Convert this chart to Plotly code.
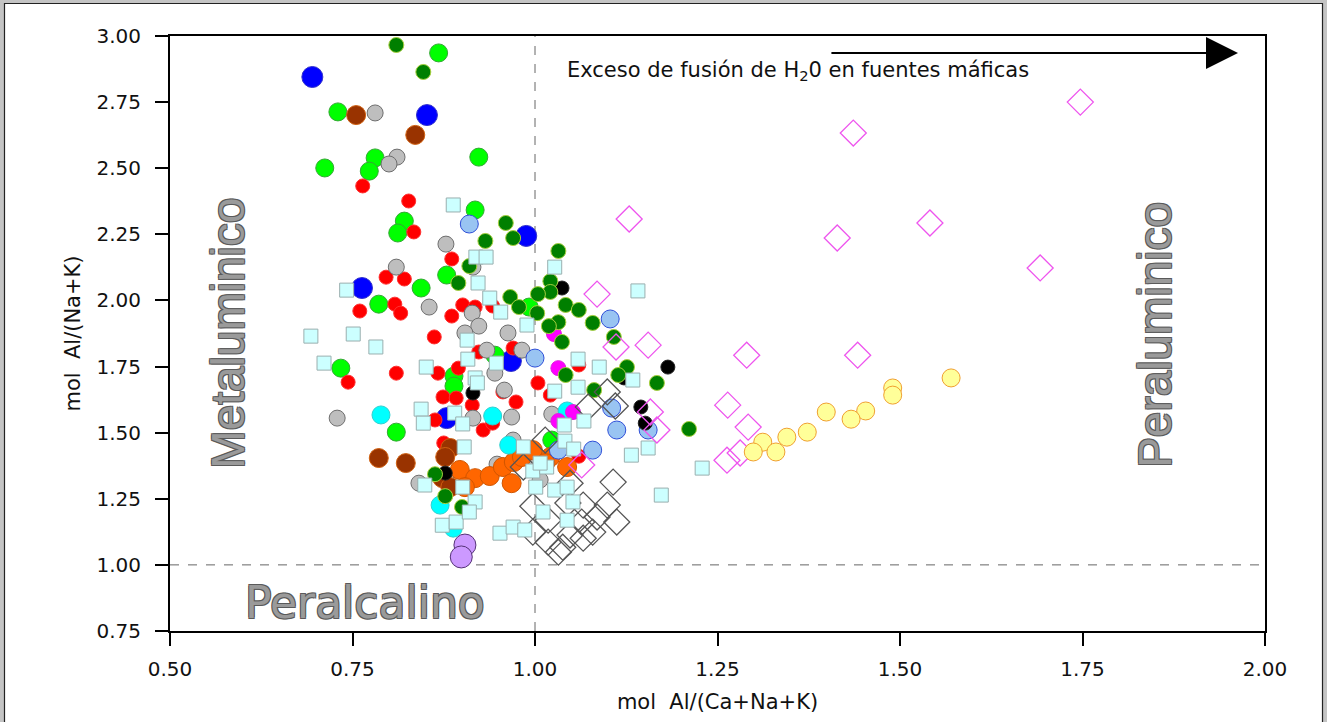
import plotly.graph_objects as go

# ---------------- data ----------------
blue_x = [0.695, 0.852, 0.763, 0.988, 0.967, 0.879]
blue_y = [2.845, 2.701, 2.047, 2.244, 1.771, 1.555]

lime_x = [0.712, 0.730, 0.781, 0.773, 0.868, 0.923, 0.918, 0.821, 0.812, 0.879, 0.844, 0.786,
          0.734, 0.889, 0.889, 0.810, 0.992, 1.023, 0.945]
lime_y = [2.501, 2.713, 2.539, 2.489, 2.936, 2.542, 2.342, 2.300, 2.255, 2.096, 2.047, 1.986,
          1.744, 1.714, 1.676, 1.502, 1.975, 1.472, 1.793]

red_x = [0.764, 0.827, 0.834, 0.886, 0.796, 0.821, 0.760, 0.808, 0.816, 0.901, 0.886, 0.918,
         0.942, 0.862, 0.923, 0.970, 0.810, 0.744, 0.867, 0.874, 0.892, 0.914, 0.956, 0.974,
         1.004, 1.021, 0.863, 0.929, 0.942, 0.875, 1.060, 1.060, 0.895]
red_y = [2.433, 2.376, 2.259, 2.157, 2.088, 2.081, 1.960, 1.986, 1.952, 1.983, 1.941, 1.975,
         1.979, 1.862, 1.805, 1.820, 1.725, 1.691, 1.725, 1.635, 1.631, 1.604, 1.654, 1.616,
         1.688, 1.642, 1.548, 1.510, 1.536, 1.461, 1.756, 1.411, 1.744]

gray_x = [0.781, 0.811, 0.800, 0.878, 0.810, 0.915, 0.855, 0.914, 0.923, 0.904, 0.963, 0.934,
          0.982, 0.945, 0.958, 0.729, 0.915, 0.968, 1.023, 0.948, 0.970, 0.841, 0.997, 1.007, 0.878]
gray_y = [2.709, 2.542, 2.516, 2.213, 2.126, 2.126, 1.975, 1.952, 1.903, 1.877, 1.877, 1.812,
          1.812, 1.725, 1.661, 1.555, 1.555, 1.559, 1.570, 1.381, 1.472, 1.309, 1.408, 1.321, 1.336]

brown_x = [0.755, 0.836, 0.786, 0.823, 0.884, 0.877, 0.873, 0.884]
brown_y = [2.701, 2.626, 1.404, 1.385, 1.442, 1.408, 1.328, 1.294]

orange_x = [0.897, 0.918, 0.938, 0.956, 0.968, 0.971, 0.982, 0.997, 1.021, 1.044, 1.014, 0.904]
orange_y = [1.359, 1.328, 1.336, 1.370, 1.309, 1.389, 1.408, 1.434, 1.408, 1.370, 1.385, 1.294]

purple_x = [0.904, 0.899]
purple_y = [1.075, 1.030]

cyan_x = [0.789, 0.942, 0.964, 0.870, 0.888, 1.044]
cyan_y = [1.567, 1.563, 1.453, 1.226, 1.139, 1.582]

magenta_x = [1.026, 1.032, 1.052, 1.032]
magenta_y = [1.873, 1.744, 1.578, 1.544]

lightblue_x = [0.910, 1.103, 1.000, 1.105, 1.112, 1.155, 1.079, 1.032]
lightblue_y = [2.289, 1.930, 1.782, 1.593, 1.510, 1.510, 1.434, 1.434]

black_x = [1.037, 1.182, 0.915, 0.877, 1.145, 1.151, 1.122]
black_y = [2.047, 1.748, 1.650, 1.347, 1.597, 1.536, 1.707]

dkgreen_x = [0.810, 0.847, 0.960, 0.970, 0.932, 0.910, 0.895, 1.032, 1.021, 1.021, 1.004, 0.966,
             0.978, 1.003, 1.042, 1.060, 1.079, 1.032, 1.019, 1.037, 1.108, 1.042, 1.081, 1.126,
             1.114, 1.167, 1.211, 0.863, 0.877, 0.900]
dkgreen_y = [2.966, 2.864, 2.293, 2.236, 2.225, 2.130, 2.066, 2.187, 2.073, 2.032, 2.024, 2.013,
             1.975, 1.952, 1.983, 1.964, 1.915, 1.918, 1.903, 1.843, 1.862, 1.718, 1.661, 1.748,
             1.718, 1.688, 1.514, 1.343, 1.260, 1.219]

whitediam_x = [1.099, 1.110, 1.073, 1.014, 0.984, 1.048, 1.107, 0.997, 1.045, 1.066, 1.099, 1.018,
               1.064, 1.085, 1.112, 0.997, 1.048, 1.079, 1.018, 1.038, 1.066, 1.032]
whitediam_y = [1.654, 1.601, 1.597, 1.472, 1.370, 1.309, 1.313, 1.222, 1.234, 1.226, 1.226, 1.169,
               1.162, 1.181, 1.162, 1.124, 1.113, 1.124, 1.086, 1.067, 1.101, 1.048]

square_x = [0.888, 0.919, 0.933, 1.027, 1.141, 0.922, 0.742, 0.938, 0.953, 0.989, 0.693, 0.751,
            0.782, 0.907, 0.908, 0.947, 0.711, 0.851, 0.918, 0.921, 0.844, 0.847, 0.890, 0.901,
            0.903, 0.984, 0.997, 1.016, 0.849, 0.901, 0.918, 0.873, 0.892, 0.952, 0.970, 0.986,
            1.011, 1.059, 1.088, 1.027, 1.059, 1.040, 1.067, 1.041, 1.053, 1.134, 1.132, 1.155,
            1.007, 1.001, 1.027, 1.044, 1.052, 1.044, 0.910, 1.173, 1.229]
square_y = [2.361, 2.164, 2.164, 2.126, 2.036, 2.066, 2.039, 2.009, 1.956, 1.907, 1.865, 1.873,
            1.824, 1.850, 1.778, 1.763, 1.763, 1.748, 1.707, 1.688, 1.589, 1.536, 1.574, 1.533,
            1.446, 1.446, 1.355, 1.370, 1.302, 1.294, 1.238, 1.150, 1.162, 1.120, 1.143, 1.132,
            1.200, 1.778, 1.748, 1.657, 1.672, 1.529, 1.544, 1.468, 1.438, 1.699, 1.415, 1.442,
            1.385, 1.294, 1.283, 1.294, 1.238, 1.169, 1.200, 1.264, 1.366]

pinkdiam_x = [1.747, 1.436, 1.129, 1.414, 1.541, 1.692, 1.085, 1.111, 1.155, 1.290, 1.442, 1.158,
              1.167, 1.264, 1.292, 1.263, 1.281, 1.064]
pinkdiam_y = [2.750, 2.633, 2.308, 2.236, 2.293, 2.123, 2.024, 1.824, 1.831, 1.793, 1.793, 1.578,
              1.510, 1.604, 1.521, 1.396, 1.423, 1.378]

yellow_x = [1.570, 1.490, 1.490, 1.453, 1.433, 1.399, 1.373, 1.345, 1.312, 1.299, 1.330]
yellow_y = [1.707, 1.669, 1.642, 1.582, 1.551, 1.578, 1.502, 1.483, 1.464, 1.427, 1.427]

x_ticks = [0.50, 0.75, 1.00, 1.25, 1.50, 1.75, 2.00]
y_ticks = [0.75, 1.00, 1.25, 1.50, 1.75, 2.00, 2.25, 2.50, 2.75, 3.00]

# ---------------- figure ----------------
FONT = "DejaVu Sans, Arial, sans-serif"
BIGFONT = "Liberation Sans, Arial, sans-serif"
fig = go.Figure()


def add(xs, ys, symbol, size, fill, line_color, line_width=1):
    fig.add_trace(go.Scatter(
        x=xs, y=ys, mode="markers", hoverinfo="x+y",
        marker=dict(symbol=symbol, size=size, color=fill,
                    line=dict(color=line_color, width=line_width)),
    ))


add(blue_x, blue_y, "circle", 21, "#0000FF", "#3333CC")
add(lime_x, lime_y, "circle", 18, "#00FF00", "#33A833")
add(red_x, red_y, "circle", 14, "#FF0000", "#FF3030")
add(gray_x, gray_y, "circle", 16, "#BEBEBE", "#6E6E6E")
add(brown_x, brown_y, "circle", 19, "#993300", "#D06010")
add(orange_x, orange_y, "circle", 19, "#FF6600", "#D05500")
add(purple_x, purple_y, "circle", 22, "#CC99FF", "#553377")
add(cyan_x, cyan_y, "circle", 18, "#00FFFF", "#30D0D0")
add(magenta_x, magenta_y, "circle", 15, "#FF00FF", "#E020E0")
add(lightblue_x, lightblue_y, "circle", 18, "#99C4F2", "#2F4FD8")
add(black_x, black_y, "circle", 14, "#000000", "#222222")
add(dkgreen_x, dkgreen_y, "circle", 15, "#007F00", "#A8D040")
add(whitediam_x, whitediam_y, "diamond-open", 20, "#555555", "#555555", 1.3)
add(square_x, square_y, "square", 14, "#CCFFFF", "#9AAFAF")
add(pinkdiam_x, pinkdiam_y, "diamond-open", 20, "#EE55EE", "#EE55EE", 1.3)
add(yellow_x, yellow_y, "circle", 18, "#FFFF99", "#F0A030")

# reference dashed lines
fig.add_shape(type="line", xref="x", yref="y", x0=1.0, x1=1.0, y0=0.75, y1=3.0,
              line=dict(color="#666666", width=1, dash="dash"), layer="below")
fig.add_shape(type="line", xref="x", yref="y", x0=0.5, x1=2.0, y0=1.0, y1=1.0,
              line=dict(color="#666666", width=1, dash="dash"), layer="below")

# outer frame of the picture
W, H = 1327, 722
ML, MR, MT, MB = 170, 62, 36, 91
PW, PH = W - ML - MR, H - MT - MB


def px_x(p):
    return (p - ML) / PW


def px_y(p):
    return 1 - (p - MT) / PH


fig.add_shape(type="rect", xref="paper", yref="paper",
              x0=px_x(2), x1=px_x(W - 2), y0=px_y(H + 10), y1=px_y(1.5),
              line=dict(color="#C4C4C4", width=4), layer="below")
fig.add_shape(type="rect", xref="paper", yref="paper",
              x0=px_x(4.5), x1=px_x(W - 4.5), y0=px_y(H + 10), y1=px_y(3.5),
              line=dict(color="#222222", width=1.2), layer="below")

outline = ("-1px -1px 0 #5a5a5a, 1px -1px 0 #5a5a5a, -1px 1px 0 #5a5a5a, 1px 1px 0 #5a5a5a")
big_font = dict(family=BIGFONT, size=46, color="#9A9A9A", shadow=outline)

fig.add_annotation(x=0.579, y=1.877, xref="x", yref="y", text="Metaluminico",
                   textangle=-90, showarrow=False, font=big_font)
fig.add_annotation(x=1.849, y=1.869, xref="x", yref="y", text="Peraluminico",
                   textangle=-90, showarrow=False, font=big_font)
fig.add_annotation(x=0.767, y=0.858, xref="x", yref="y", text="Peralcalino",
                   showarrow=False,
                   font=dict(family=FONT, size=44, color="#9A9A9A", shadow=outline))

# arrow + text
fig.add_annotation(x=1.963, y=2.936, ax=1.404, ay=2.936, xref="x", yref="y",
                   axref="x", ayref="y", text="", showarrow=True,
                   arrowhead=2, arrowsize=3.2, arrowwidth=2, arrowcolor="#000000")
fig.add_annotation(x=1.041, y=2.866, xref="x", yref="y", xanchor="left",
                   text="Exceso de fusión de H<sub>2</sub>0 en fuentes máficas",
                   showarrow=False, font=dict(family=FONT, size=21, color="#111111"))

axis_common = dict(showgrid=False, zeroline=False, showline=True, linecolor="#000000",
                   linewidth=2, mirror=True, ticks="outside", ticklen=13, tickwidth=1.5,
                   tickcolor="#000000", tickfont=dict(family=FONT, size=20, color="#111111"))

fig.update_layout(
    width=W, height=H,
    margin=dict(l=ML, r=MR, t=MT, b=MB),
    paper_bgcolor="#FFFFFF", plot_bgcolor="#FFFFFF",
    showlegend=False,
    xaxis=dict(range=[0.5, 2.0], tickvals=x_ticks, tickformat=".2f", ticklabelstandoff=6,
               title=dict(text="mol  Al/(Ca+Na+K)", standoff=14,
                          font=dict(family=FONT, size=21, color="#111111")),
               **axis_common),
    yaxis=dict(range=[0.75, 3.0], tickvals=y_ticks, tickformat=".2f", ticklabelstandoff=10,
               title=dict(text="mol  Al/(Na+K)", standoff=10,
                          font=dict(family=FONT, size=21, color="#111111")),
               **axis_common),
)

fig.write_html("out.html", config={"displayModeBar": False},
               post_script="document.body.style.margin='0';document.body.style.overflow='hidden';")
